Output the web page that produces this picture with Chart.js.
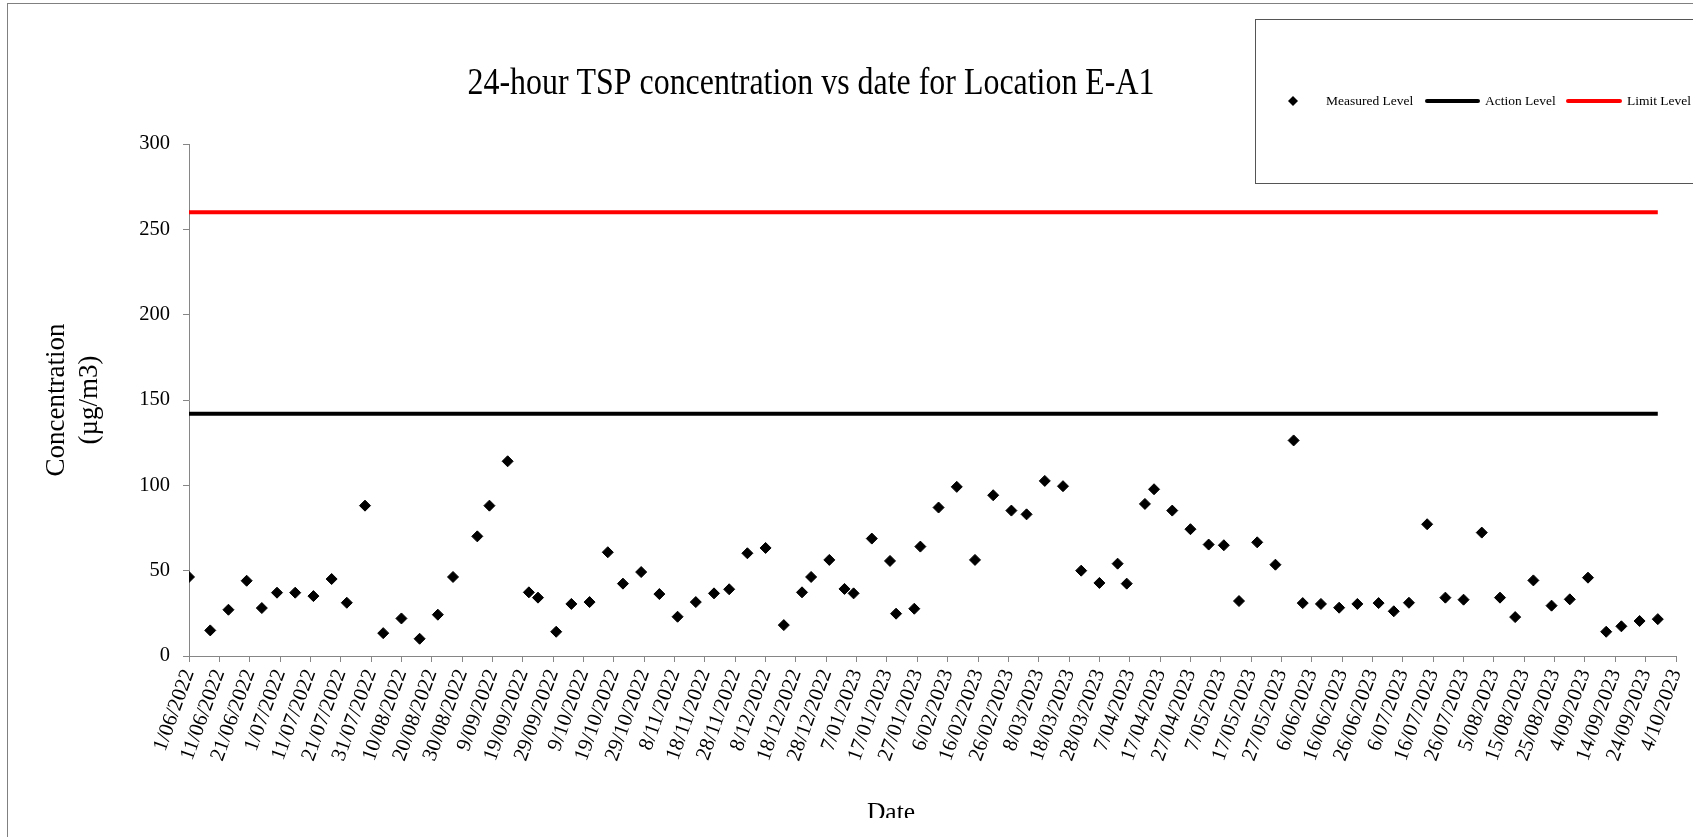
<!DOCTYPE html>
<html>
<head>
<meta charset="utf-8">
<title>24-hour TSP concentration vs date for Location E-A1</title>
<script src="https://cdn.jsdelivr.net/npm/chart.js@4.4.1/dist/chart.umd.min.js"></script>
<style>
  html, body { margin: 0; padding: 0; background: #fff; overflow: hidden; }
  #tspChart { display: block; }
</style>
</head>
<body>
<canvas id="tspChart" width="1693" height="837"></canvas>
<script>
(function () {
    'use strict';

    // sampling days, counted in days after 1/06/2022
    var sampleDay = [
        0, 7, 13, 19, 24, 29, 35, 41, 47, 52, 58, 64, 70, 76, 82, 87, 95, 99,
        105, 112, 115, 121, 126, 132, 138, 143, 149, 155, 161, 167, 173, 178, 184, 190, 196,
        202, 205, 211, 216, 219, 225, 231, 233, 239, 241, 247, 253, 259, 265, 271, 276, 282, 288, 294,
        300, 306, 309, 315, 318, 324, 330, 336, 341, 346, 352, 358, 364, 367, 373, 379, 385, 392,
        397, 402, 408, 414, 420, 426, 432, 437, 443, 449, 455, 461, 467, 472, 478, 484
    ];

    // measured 24-hour TSP, ug/m3
    var measuredLevel = [
        46.3, 15.0, 27.1, 44.1, 28.1, 37.1, 37.1, 35.1, 45.1, 31.2, 88.1, 13.4, 22.0, 10.1, 24.2, 46.3, 70.1, 88.1,
        114.1, 37.3, 34.2, 14.2, 30.5, 31.6, 60.8, 42.4, 49.2, 36.3, 23.0, 31.6, 36.7, 39.1, 60.2, 63.3, 18.1,
        37.3, 46.3, 56.3, 39.3, 36.7, 68.8, 55.7, 24.8, 27.7, 64.1, 87.0, 99.1, 56.3, 94.2, 85.2, 83.0, 102.6, 99.5, 50.0,
        42.8, 54.1, 42.4, 89.1, 97.7, 85.2, 74.3, 65.3, 64.9, 32.2, 66.6, 53.5, 126.3, 31.0, 30.5, 28.3, 30.5, 31.0,
        26.2, 31.2, 77.2, 34.2, 33.0, 72.3, 34.2, 22.8, 44.3, 29.5, 33.2, 45.9, 14.2, 17.4, 20.5, 21.6
    ];

    var actionLevel = 142;
    var limitLevel = 260;

    // axes
    var startDate = [2022, 5, 1];     // 1/06/2022 (month is 0-based)
    var xMin = 0, xMax = 490, xStep = 10;
    var yMin = 0, yMax = 300, yStep = 50;

    var chartTitle = '24-hour TSP concentration vs date for Location E-A1';
    var yTitle = ['Concentration', '(\u00b5g/m3)'];
    var xTitle = 'Date';

    var SERIF = "'Liberation Serif', 'Times New Roman', serif";
    var AXIS_GREY = '#868686';

    function dayLabel(v) {
        var d = new Date(Date.UTC(startDate[0], startDate[1], startDate[2] + v));
        var m = d.getUTCMonth() + 1;
        return d.getUTCDate() + '/' + (m < 10 ? '0' + m : m) + '/' + d.getUTCFullYear();
    }

    function levelLine(level) {
        return [
            { x: sampleDay[0], y: level },
            { x: sampleDay[sampleDay.length - 1], y: level }
        ];
    }

    var points = sampleDay.map(function (d, i) { return { x: d, y: measuredLevel[i] }; });

    /* ===== decorations: frame, title, legend, x title ===== */

    var decorPlugin = {
        id: 'decor',
        beforeDraw: function (chart) {
            var c = chart.ctx;
            c.save();
            c.fillStyle = '#fff';
            c.fillRect(0, 0, chart.width, chart.height);
            c.restore();
        },
        afterDraw: function (chart) {
            var c = chart.ctx;
            var ds = chart.data.datasets;
            c.save();

            // outer frame
            c.strokeStyle = '#808080';
            c.lineWidth = 1;
            c.strokeRect(7.5, 3.5, 1800, 900);

            // title (slightly condensed, as in the source)
            c.save();
            c.fillStyle = '#000';
            c.font = '38px ' + SERIF;
            c.textAlign = 'center';
            c.textBaseline = 'alphabetic';
            c.translate(811, 94);
            c.scale(0.84, 1);
            c.fillText(chartTitle, 0, 0);
            c.restore();

            // legend box
            c.strokeStyle = '#555';
            c.lineWidth = 1;
            c.strokeRect(1255.5, 19.5, 600, 164);

            var ly = 101;
            c.font = '13.5px ' + SERIF;
            c.textAlign = 'left';
            c.textBaseline = 'middle';
            c.fillStyle = '#000';

            // measured marker
            c.beginPath();
            c.moveTo(1293, ly - 5);
            c.lineTo(1298, ly);
            c.lineTo(1293, ly + 5);
            c.lineTo(1288, ly);
            c.closePath();
            c.fillStyle = ds[0].backgroundColor;
            c.fill();
            c.fillStyle = '#000';
            c.fillText(ds[0].label, 1326, ly);

            c.lineCap = 'round';
            c.lineWidth = 4;
            c.strokeStyle = ds[1].borderColor;
            c.beginPath(); c.moveTo(1427, ly); c.lineTo(1478, ly); c.stroke();
            c.fillText(ds[1].label, 1485, ly);

            c.strokeStyle = ds[2].borderColor;
            c.beginPath(); c.moveTo(1568, ly); c.lineTo(1620, ly); c.stroke();
            c.fillText(ds[2].label, 1627, ly);

            // x axis title, clipped at the bottom as in the source
            c.save();
            c.beginPath();
            c.rect(0, 0, chart.width, 818);
            c.clip();
            c.font = '25.5px ' + SERIF;
            c.textAlign = 'center';
            c.textBaseline = 'alphabetic';
            c.fillText(xTitle, 891, 820);
            c.restore();

            c.restore();
        }
    };

    /* ===== chart ===== */

    function init() {
        var el = document.getElementById('tspChart');
        if (!el) return;

        new Chart(el, {
            type: 'scatter',
            data: {
                datasets: [
                    {
                        label: 'Measured Level',
                        data: points,
                        pointStyle: 'rectRot',
                        pointRadius: 5.5,
                        borderWidth: 1,
                        backgroundColor: '#000',
                        borderColor: '#000',
                        showLine: false,
                    },
                    {
                        label: 'Action Level',
                        data: levelLine(actionLevel),
                        showLine: true,
                        borderColor: '#000',
                        backgroundColor: '#000',
                        borderWidth: 4,
                        pointRadius: 0,
                    },
                    {
                        label: 'Limit Level',
                        data: levelLine(limitLevel),
                        showLine: true,
                        borderColor: '#ff0000',
                        backgroundColor: '#ff0000',
                        borderWidth: 4,
                        pointRadius: 0,
                    },
                ],
            },
            options: {
                responsive: false,
                animation: false,
                layout: { padding: { left: 40, top: 144, right: 17, bottom: 0 } },
                plugins: {
                    legend: { display: false },
                    title: { display: false },
                    tooltip: { enabled: false },
                },
                scales: {
                    x: {
                        type: 'linear',
                        min: xMin,
                        max: xMax,
                        ticks: {
                            stepSize: xStep,
                            autoSkip: false,
                            minRotation: 70,
                            maxRotation: 70,
                            padding: 4,
                            color: '#000',
                            font: { family: SERIF, size: 21 },
                            callback: function (v) { return dayLabel(v); },
                        },
                        grid: { drawOnChartArea: false, tickLength: 6, color: AXIS_GREY },
                        border: { color: AXIS_GREY, width: 1 },
                        afterFit: function (axis) {
                            axis.height = 181;
                            // labels hang to the left of their ticks, no room needed on the right
                            axis.paddingRight = 0;
                        },
                    },
                    y: {
                        min: yMin,
                        max: yMax,
                        ticks: {
                            stepSize: yStep,
                            padding: 13,
                            color: '#000',
                            font: { family: SERIF, size: 20.5 },
                        },
                        grid: { drawOnChartArea: false, tickLength: 6, color: AXIS_GREY },
                        border: { color: AXIS_GREY, width: 1 },
                        title: {
                            display: true,
                            text: yTitle,
                            color: '#000',
                            font: { family: SERIF, size: 27, lineHeight: 1.22 },
                            padding: { top: 0, bottom: 0 },
                        },
                        afterFit: function (axis) { axis.width = 149; },
                    },
                },
            },
            plugins: [decorPlugin],
        });
    }

    if (document.readyState === 'loading') {
        document.addEventListener('DOMContentLoaded', init);
    } else {
        init();
    }
})();
</script>
</body>
</html>
